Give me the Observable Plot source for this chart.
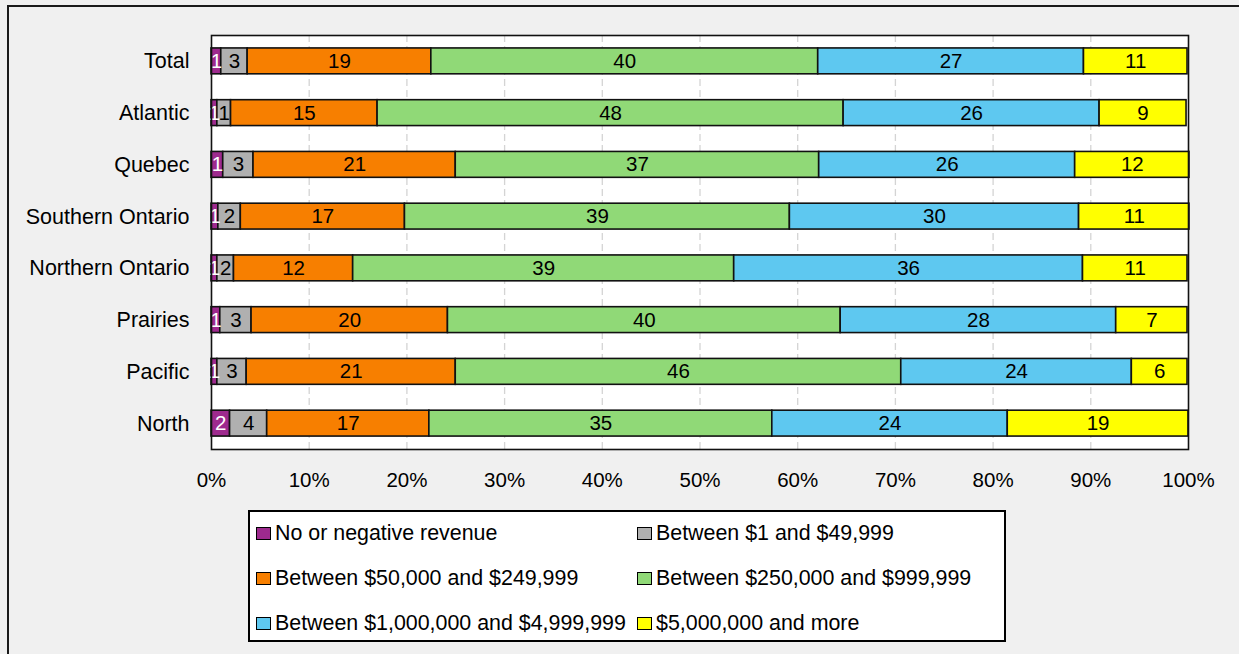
<!DOCTYPE html>
<html>
<head>
<meta charset="utf-8">
<script src="https://cdn.jsdelivr.net/npm/d3@7"></script>
<script src="https://cdn.jsdelivr.net/npm/@observablehq/plot@0.6"></script>
<style>
  html, body { margin: 0; padding: 0; background: #f0f0f0; overflow: hidden; width: 1239px; height: 654px; }
  #frame { position: absolute; left: 7px; top: 5px; width: 1300px; height: 700px; border: 2px solid #1a1a1a; box-sizing: border-box; }
  #chart { position: absolute; left: 0; top: 0; }
  #legend { position: absolute; left: 248px; top: 510px; width: 758px; height: 132px; background: #fff; border: 2px solid #000; box-sizing: border-box; font-family: "Liberation Sans", Arial, sans-serif; font-size: 21.4px; color: #000; }
  .item { position: absolute; display: flex; align-items: center; white-space: nowrap; }
  .sw { width: 13px; height: 11px; border: 1.5px solid #000; margin-right: 4px; }
</style>
</head>
<body>
<div id="frame"></div>
<div id="chart"></div>
<div id="legend"></div>
<script>
const regions = ["Total", "Atlantic", "Quebec", "Southern Ontario", "Northern Ontario", "Prairies", "Pacific", "North"];
const categories = [
  "No or negative revenue",
  "Between $1 and $49,999",
  "Between $50,000 and $249,999",
  "Between $250,000 and $999,999",
  "Between $1,000,000 and $4,999,999",
  "$5,000,000 and more"
];
const colors = ["#9e2a8e", "#b0b0b0", "#f77f00", "#90d977", "#5ec8f0", "#ffff00"];
const noRevenue = [1.0, 0.6, 1.2, 0.7, 0.6, 0.9, 0.6, 1.9];
const under50k  = [2.7, 1.4, 3.1, 2.3, 1.7, 3.2, 3.0, 3.8];
const from50k   = [18.8, 15.0, 20.7, 16.8, 12.2, 20.1, 21.4, 16.6];
const from250k  = [39.6, 47.7, 37.2, 39.4, 39.0, 40.2, 45.6, 35.1];
const from1m    = [27.2, 26.2, 26.2, 29.6, 35.7, 28.2, 23.6, 24.1];
const over5m    = [10.6, 8.9, 11.7, 11.3, 10.7, 7.3, 5.7, 18.5];
const xTicks = [0, 10, 20, 30, 40, 50, 60, 70, 80, 90, 100];
const gridTicks = [10, 20, 30, 40, 50, 60, 70, 80, 90];

const series = [noRevenue, under50k, from50k, from250k, from1m, over5m];
const data = [];
regions.forEach((r, i) => {
  series.forEach((s, j) => {
    data.push({region: r, cat: categories[j], color: colors[j], value: s[i]});
  });
});

const chart = Plot.plot({
  width: 1239,
  height: 500,
  marginLeft: 211,
  marginRight: 51,
  marginTop: 35,
  marginBottom: 51,
  style: {fontFamily: "'Liberation Sans', Arial, sans-serif", fontSize: "20px", color: "#000", background: "transparent", overflow: "visible"},
  x: {domain: [0, 100]},
  y: {domain: regions, paddingInner: 0.5, paddingOuter: 0.25, round: false},
  marks: [
    Plot.frame({fill: "white", stroke: null}),
    Plot.ruleX(gridTicks, {stroke: "#d4d4d4", strokeDasharray: "7,4", strokeWidth: 1.3}),
    Plot.barX(data, Plot.stackX({x: "value", y: "region", z: "cat", order: categories, fill: d => d.color, stroke: "#111", strokeWidth: 1.6})),
    Plot.text(data, Plot.stackX({x: "value", y: "region", z: "cat", order: categories,
      text: d => String(Math.round(d.value)),
      fill: d => d.cat === categories[0] ? "white" : "black",
      fontSize: 20.5})),
    Plot.frame({stroke: "#111", strokeWidth: 1.6}),
    Plot.axisX({ticks: xTicks, tickFormat: d => d + "%", tickSize: 0, tickPadding: 23, fontSize: 20.5, label: null}),
    Plot.axisY({tickSize: 0, tickPadding: 22, fontSize: 21.5, label: null})
  ]
});
document.getElementById("chart").appendChild(chart);

const legend = document.getElementById("legend");
const pos = [[6, 21], [387, 21], [6, 66], [387, 66], [6, 111], [387, 111]];
categories.forEach((c, i) => {
  const it = document.createElement("div");
  it.className = "item";
  it.style.left = pos[i][0] + "px";
  it.style.top = (pos[i][1] - 12) + "px";
  it.style.height = "24px";
  const sw = document.createElement("div");
  sw.className = "sw";
  sw.style.background = colors[i];
  const tx = document.createElement("span");
  tx.textContent = c;
  it.appendChild(sw);
  it.appendChild(tx);
  legend.appendChild(it);
});
</script>
</body>
</html>
